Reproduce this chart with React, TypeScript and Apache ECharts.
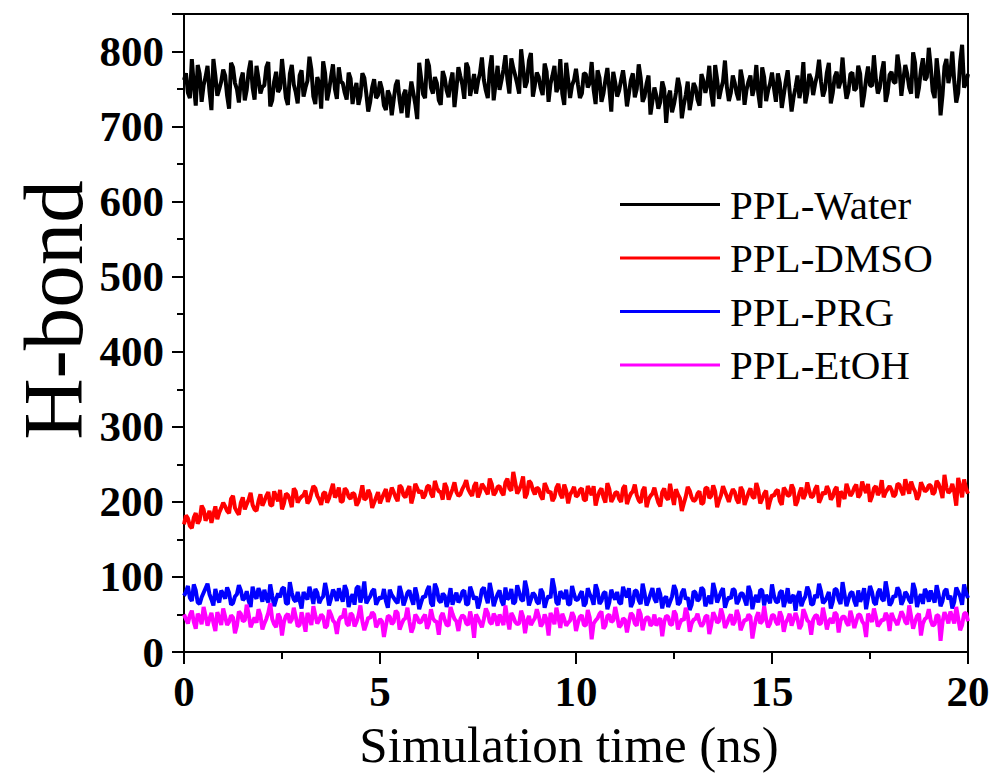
import React, { useEffect, useRef } from "react";
import * as echarts from "echarts";

// H-bond counts read at whole 0.1 ns steps (t = 0.0, 0.1, ..., 20.0; 201 samples)
const waterHB = [
  762, 745, 790, 728, 770, 755, 781, 722, 768, 750, 776,
  741, 785, 758, 732, 772, 749, 788, 736, 764, 753,
  779, 727, 760, 746, 790, 738, 770, 756, 731, 775,
  752, 793, 740, 766, 724, 771, 748, 783, 737, 760,
  745, 772, 730, 758, 741, 765, 720, 752, 738, 760,
  728, 748, 715, 755, 735, 742, 712, 760, 730, 785,
  743, 790, 752, 766, 735, 774, 748, 760, 726, 779,
  756, 785, 741, 770, 760, 792, 748, 776, 735, 781,
  762, 795, 744, 778, 757, 803, 752, 788, 740, 772,
  751, 784, 733, 768, 746, 790, 729, 762, 755, 777,
  738, 771, 752, 786, 730, 765, 744, 778, 720, 759,
  748, 775, 727, 762, 739, 783, 733, 757, 716, 752,
  724, 760, 705, 748, 730, 765, 711, 742, 722, 758,
  736, 770, 745, 781, 727, 763, 750, 788, 734, 768,
  744, 776, 729, 760, 741, 782, 725, 766, 748, 772,
  733, 758, 742, 775, 720, 752, 738, 786, 745, 763,
  757, 789, 740, 772, 731, 766, 751, 792, 737, 770,
  748, 781, 726, 763, 755, 795, 744, 773, 733, 769,
  760, 796, 741, 782, 752, 799, 738, 776, 762, 805,
  747, 791, 715, 780, 758, 800, 732, 786, 752, 770,
];
// H-bond counts read at the half steps (t = 0.05, 0.15, ..., 19.95; 200 samples)
const waterHBHalf = [
  771, 738, 756, 782, 733, 766, 747, 790, 741, 760,
  768, 724, 779, 750, 762, 735, 774, 752, 781, 744,
  755, 786, 735, 773, 751, 764, 729, 782, 746, 768,
  740, 761, 776, 730, 758, 787, 735, 766, 750, 779,
  758, 736, 764, 748, 729, 771, 744, 733, 763, 742,
  750, 722, 741, 736, 762, 718, 749, 738, 745, 710,
  764, 738, 781, 744, 758, 729, 765, 739, 772, 751,
  767, 737, 778, 755, 744, 771, 762, 738, 795, 758,
  749, 776, 763, 791, 768, 744, 779, 760, 798, 755,
  766, 742, 773, 757, 781, 752, 744, 785, 738, 762,
  756, 744, 770, 758, 749, 775, 733, 762, 751, 773,
  740, 762, 755, 744, 771, 750, 765, 740, 768, 734,
  741, 733, 750, 738, 719, 745, 752, 729, 760, 737,
  752, 728, 761, 756, 744, 782, 737, 760, 752, 745,
  758, 735, 762, 749, 768, 752, 744, 779, 734, 757,
  751, 771, 725, 760, 747, 739, 768, 752, 731, 770,
  742, 768, 760, 749, 785, 745, 773, 760, 758, 747,
  772, 751, 770, 742, 780, 754, 763, 752, 787, 745,
  773, 758, 778, 763, 770, 744, 785, 752, 791, 766,
  779, 738, 766, 742, 790, 771, 760, 745, 809, 758,
];

const dmsoHB = [
  170, 178, 165, 185, 176, 190, 181, 172, 194, 186, 199,
  188, 204, 192, 183, 206, 197, 212, 190, 201, 195,
  208, 196, 214, 201, 190, 211, 203, 218, 199, 207,
  215, 202, 221, 208, 196, 213, 205, 224, 210, 200,
  218, 207, 212, 195, 209, 203, 216, 192, 206, 198,
  211, 200, 219, 206, 222, 209, 215, 198, 224, 212,
  205, 220, 211, 228, 214, 203, 219, 210, 226, 208,
  217, 229, 212, 221, 206, 224, 215, 231, 209, 220,
  213, 226, 218, 240, 211, 223, 205, 228, 216, 219,
  208, 225, 212, 201, 219, 210, 223, 198, 214, 207,
  216, 203, 221, 209, 195, 214, 206, 225, 200, 212,
  204, 218, 197, 211, 223, 202, 215, 193, 208, 219,
  199, 213, 206, 224, 196, 210, 188, 207, 215, 201,
  211, 197, 218, 205, 222, 193, 209, 214, 200, 217,
  203, 220, 196, 212, 207, 225, 198, 211, 190, 209,
  214, 201, 219, 208, 223, 195, 212, 204, 226, 206,
  217, 199, 213, 221, 203, 216, 193, 210, 224, 208,
  219, 206, 227, 212, 200, 218, 209, 229, 213, 221,
  207, 224, 215, 230, 211, 219, 203, 226, 214, 222,
  210, 228, 216, 236, 212, 224, 195, 220, 230, 211,
];
const dmsoHBHalf = [
  182, 168, 179, 171, 195, 175, 188, 183, 177, 192,
  194, 185, 208, 187, 199, 190, 203, 196, 188, 210,
  201, 213, 195, 207, 216, 198, 209, 193, 214, 204,
  209, 198, 212, 218, 203, 211, 199, 215, 206, 219,
  201, 215, 204, 210, 200, 222, 205, 210, 199, 213,
  205, 217, 208, 213, 201, 219, 206, 221, 208, 218,
  215, 209, 222, 206, 219, 213, 225, 203, 217, 213,
  210, 222, 217, 208, 226, 213, 220, 210, 224, 213,
  221, 209, 231, 215, 226, 216, 234, 211, 225, 210,
  217, 203, 219, 214, 206, 224, 205, 215, 210, 220,
  209, 218, 202, 215, 221, 206, 218, 199, 217, 205,
  213, 200, 222, 205, 214, 209, 199, 220, 203, 211,
  208, 194, 218, 203, 209, 217, 205, 198, 220, 206,
  203, 214, 199, 219, 208, 214, 202, 221, 207, 210,
  213, 198, 215, 204, 218, 205, 216, 204, 215, 201,
  208, 216, 196, 215, 209, 217, 201, 219, 210, 215,
  208, 222, 205, 210, 215, 207, 220, 214, 204, 216,
  212, 223, 210, 218, 224, 207, 221, 214, 206, 217,
  216, 210, 223, 209, 220, 227, 214, 209, 220, 216,
  222, 213, 224, 205, 219, 215, 213, 232, 206, 218,
];

const prgHB = [
  75, 88, 68, 82, 64, 79, 91, 70, 84, 66, 77,
  86, 63, 74, 89, 69, 81, 60, 76, 85, 67,
  72, 90, 61, 78, 84, 65, 93, 70, 80, 58,
  74, 87, 64, 79, 71, 92, 62, 83, 68, 75,
  89, 60, 77, 85, 66, 94, 70, 81, 63, 73,
  84, 59, 76, 68, 88, 62, 79, 71, 86, 57,
  74, 82, 65, 91, 69, 78, 60, 85, 72, 66,
  80, 63, 87, 70, 58, 83, 74, 92, 61, 77,
  68, 86, 73, 64, 89, 70, 95, 62, 79, 67,
  84, 59, 75, 98, 66, 81, 71, 63, 88, 69,
  76, 61, 85, 72, 90, 64, 78, 57, 83, 70,
  66, 87, 73, 60, 82, 69, 91, 62, 77, 71,
  85, 58, 74, 67, 89, 63, 79, 70, 56, 81,
  68, 86, 61, 75, 92, 66, 80, 59, 73, 84,
  64, 78, 70, 88, 57, 76, 83, 62, 71, 90,
  67, 79, 60, 85, 72, 55, 81, 69, 87, 63,
  76, 91, 65, 73, 58, 84, 70, 93, 61, 78,
  68, 82, 74, 57, 88, 66, 79, 71, 94, 62,
  75, 86, 63, 80, 69, 92, 60, 77, 84, 67,
  73, 89, 61, 81, 70, 58, 86, 74, 90, 72,
];
const prgHBHalf = [
  80, 72, 90, 66, 73, 85, 77, 62, 73, 82,
  71, 79, 65, 77, 82, 72, 68, 87, 71, 78,
  83, 66, 75, 70, 73, 86, 64, 79, 67, 69,
  80, 70, 77, 84, 65, 74, 79, 71, 78, 85,
  67, 82, 71, 63, 88, 76, 65, 74, 84, 69,
  71, 68, 83, 72, 65, 78, 70, 82, 63, 75,
  66, 73, 88, 61, 84, 66, 75, 70, 63, 79,
  71, 82, 64, 79, 74, 68, 86, 65, 79, 70,
  82, 62, 70, 84, 67, 80, 68, 83, 70, 76,
  64, 79, 69, 72, 85, 63, 76, 83, 64, 77,
  70, 81, 65, 77, 63, 82, 68, 80, 66, 75,
  80, 64, 78, 85, 66, 81, 64, 78, 69, 85,
  66, 77, 71, 60, 74, 82, 66, 84, 73, 63,
  79, 71, 83, 68, 64, 81, 73, 85, 68, 71,
  82, 69, 78, 62, 80, 70, 66, 82, 76, 65,
  75, 66, 82, 70, 65, 76, 73, 61, 74, 80,
  64, 72, 81, 68, 80, 67, 83, 64, 77, 70,
  80, 61, 67, 85, 72, 80, 63, 84, 68, 79,
  66, 73, 81, 69, 76, 65, 83, 71, 64, 79,
  82, 66, 77, 68, 84, 75, 67, 80, 63, 79,
];

const etohHB = [
  50, 38, 55, 31, 47, 60, 35, 52, 28, 45, 58,
  36, 49, 25, 54, 41, 63, 33, 46, 57, 30,
  44, 65, 37, 51, 22, 48, 39, 59, 34, 53,
  27, 45, 61, 38, 50, 32, 56, 42, 24, 47,
  58, 35, 49, 40, 62, 29, 46, 53, 33, 44,
  20, 48, 37, 55, 30, 43, 59, 26, 50, 39,
  46, 31, 57, 41, 23, 52, 36, 60, 44, 28,
  49, 38, 54, 19, 45, 33, 58, 40, 51, 35,
  43, 62, 30, 47, 37, 55, 25, 48, 41, 57,
  34, 50, 22, 46, 59, 32, 44, 39, 53, 28,
  47, 36, 56, 17, 42, 51, 31, 48, 40, 60,
  33, 45, 26, 52, 38, 57, 29, 46, 35, 50,
  42, 21, 48, 37, 55, 30, 44, 59, 27, 43,
  51, 34, 47, 24, 53, 39, 58, 32, 45, 36,
  56, 29, 43, 50, 18, 46, 38, 61, 33, 49,
  40, 54, 27, 44, 35, 52, 31, 57, 42, 23,
  48, 37, 59, 30, 45, 53, 26, 47, 39, 55,
  32, 50, 41, 20, 46, 58, 34, 43, 52, 28,
  45, 36, 54, 40, 62, 31, 48, 22, 44, 57,
  35, 49, 15, 53, 38, 46, 60, 29, 51, 41,
];
const etohHBHalf = [
  44, 49, 40, 51, 37, 48, 44, 39, 53, 36,
  47, 40, 46, 35, 51, 42, 50, 40, 39, 49,
  38, 52, 44, 33, 46, 40, 51, 43, 47, 36,
  41, 52, 36, 49, 43, 47, 35, 50, 39, 42,
  46, 38, 52, 34, 48, 41, 37, 45, 50, 38,
  41, 35, 47, 40, 52, 37, 45, 41, 33, 46,
  40, 50, 38, 45, 40, 47, 43, 35, 51, 41,
  44, 47, 36, 42, 50, 39, 44, 52, 37, 46,
  50, 36, 44, 52, 40, 38, 47, 41, 36, 45,
  48, 38, 43, 52, 37, 46, 51, 35, 42, 47,
  39, 49, 35, 46, 38, 45, 54, 35, 50, 42,
  47, 36, 43, 40, 49, 35, 50, 41, 46, 38,
  35, 45, 40, 47, 36, 50, 38, 42, 49, 38,
  44, 40, 38, 49, 36, 47, 41, 48, 38, 50,
  40, 48, 36, 42, 47, 34, 53, 41, 44, 38,
  49, 36, 47, 39, 51, 43, 44, 36, 50, 40,
  43, 49, 38, 46, 41, 38, 50, 42, 47, 35,
  45, 41, 49, 37, 51, 40, 47, 38, 42, 47,
  52, 41, 45, 49, 37, 47, 40, 51, 38, 46,
  42, 37, 48, 40, 47, 54, 38, 45, 36, 52,
];

const seriesNames = ["PPL-Water", "PPL-DMSO", "PPL-PRG", "PPL-EtOH"];
const seriesColors = ["#000000", "#ff0000", "#0000ff", "#ff00ff"];
const seriesWhole = [waterHB, dmsoHB, prgHB, etohHB];
const seriesHalf = [waterHBHalf, dmsoHBHalf, prgHBHalf, etohHBHalf];
const timeStepNs = 0.1;

const xAxisTitle = "Simulation time (ns)";
const yAxisTitle = "H-bond";

const FONT = "'Liberation Serif', 'Times New Roman', serif";

// merge the whole-step and half-step readings into one time-ordered list of [t, value]
function mergeSamples(whole: number[], half: number[]): number[][] {
  const out: number[][] = [];
  for (let i = 0; i < whole.length; i++) {
    out.push([Number((i * timeStepNs).toFixed(2)), whole[i]]);
    if (i < half.length) {
      out.push([Number(((i + 0.5) * timeStepNs).toFixed(2)), half[i]]);
    }
  }
  return out;
}

export default function App() {
  const ref = useRef<HTMLDivElement>(null);

  useEffect(() => {
    if (!ref.current) return;
    const chart = echarts.init(ref.current, null, { renderer: "svg" });

    const series = seriesWhole.map((vals, si) => ({
      name: seriesNames[si],
      type: "line",
      xAxisIndex: 0,
      yAxisIndex: 0,
      showSymbol: false,
      symbol: "none",
      data: mergeSamples(vals, seriesHalf[si]),
      lineStyle: { color: seriesColors[si], width: 4, join: "bevel" },
      itemStyle: { color: seriesColors[si] },
      z: 2 + si,
    }));

    chart.setOption({
      animation: false,
      backgroundColor: "#ffffff",
      textStyle: { fontFamily: FONT },
      grid: {
        left: 184,
        right: 26,
        top: 14,
        bottom: 122,
        show: true,
        borderColor: "#000",
        borderWidth: 2,
        backgroundColor: "transparent",
      },
      legend: {
        orient: "vertical",
        left: 615,
        top: 179,
        icon: "rect",
        itemWidth: 100,
        itemHeight: 3,
        itemGap: 12.5,
        data: seriesNames,
        textStyle: {
          fontFamily: FONT,
          fontSize: 41,
          lineHeight: 41,
          color: "#000",
          padding: [0, 0, 0, 5],
        },
      },
      xAxis: {
        type: "value",
        min: 0,
        max: 20,
        interval: 5,
        axisLine: { show: true, lineStyle: { color: "#000", width: 2 } },
        axisTick: { show: true, inside: false, length: 12, lineStyle: { color: "#000", width: 2 } },
        minorTick: { show: true, splitNumber: 2, length: 7, lineStyle: { color: "#000", width: 2 } },
        splitLine: { show: false },
        axisLabel: {
          margin: 18,
          fontFamily: FONT,
          fontWeight: "bold",
          fontSize: 43,
          color: "#000",
        },
      },
      yAxis: [
        {
          type: "value",
          min: 0,
          max: 850,
          interval: 100,
          axisLine: { show: true, lineStyle: { color: "#000", width: 2 } },
          axisTick: { show: true, inside: false, length: 12, lineStyle: { color: "#000", width: 2 } },
          splitLine: { show: false },
          axisLabel: {
            margin: 20,
            fontFamily: FONT,
            fontWeight: "bold",
            fontSize: 43,
            color: "#000",
            formatter: (v: number) => (v % 100 === 0 && v <= 800 ? String(v) : ""),
          },
        },
        {
          type: "value",
          position: "left",
          min: 0,
          max: 850,
          interval: 50,
          axisLine: { show: false },
          axisTick: { show: true, inside: false, length: 7, lineStyle: { color: "#000", width: 2 } },
          splitLine: { show: false },
          axisLabel: { show: false },
        },
      ],
      graphic: [
        {
          type: "text",
          x: 569,
          y: 745,
          style: {
            text: xAxisTitle,
            fontFamily: FONT,
            fontSize: 51,
            fill: "#000",
            textAlign: "center",
            textVerticalAlign: "middle",
          },
        },
        {
          type: "text",
          x: 53,
          y: 310,
          rotation: Math.PI / 2,
          style: {
            text: yAxisTitle,
            fontFamily: FONT,
            fontSize: 85,
            fill: "#000",
            textAlign: "center",
            textVerticalAlign: "middle",
          },
        },
      ],
      series,
    });

    return () => chart.dispose();
  }, []);

  return (
    <div
      ref={ref}
      style={{ position: "absolute", left: 0, top: 0, width: 994, height: 774 }}
    />
  );
}
